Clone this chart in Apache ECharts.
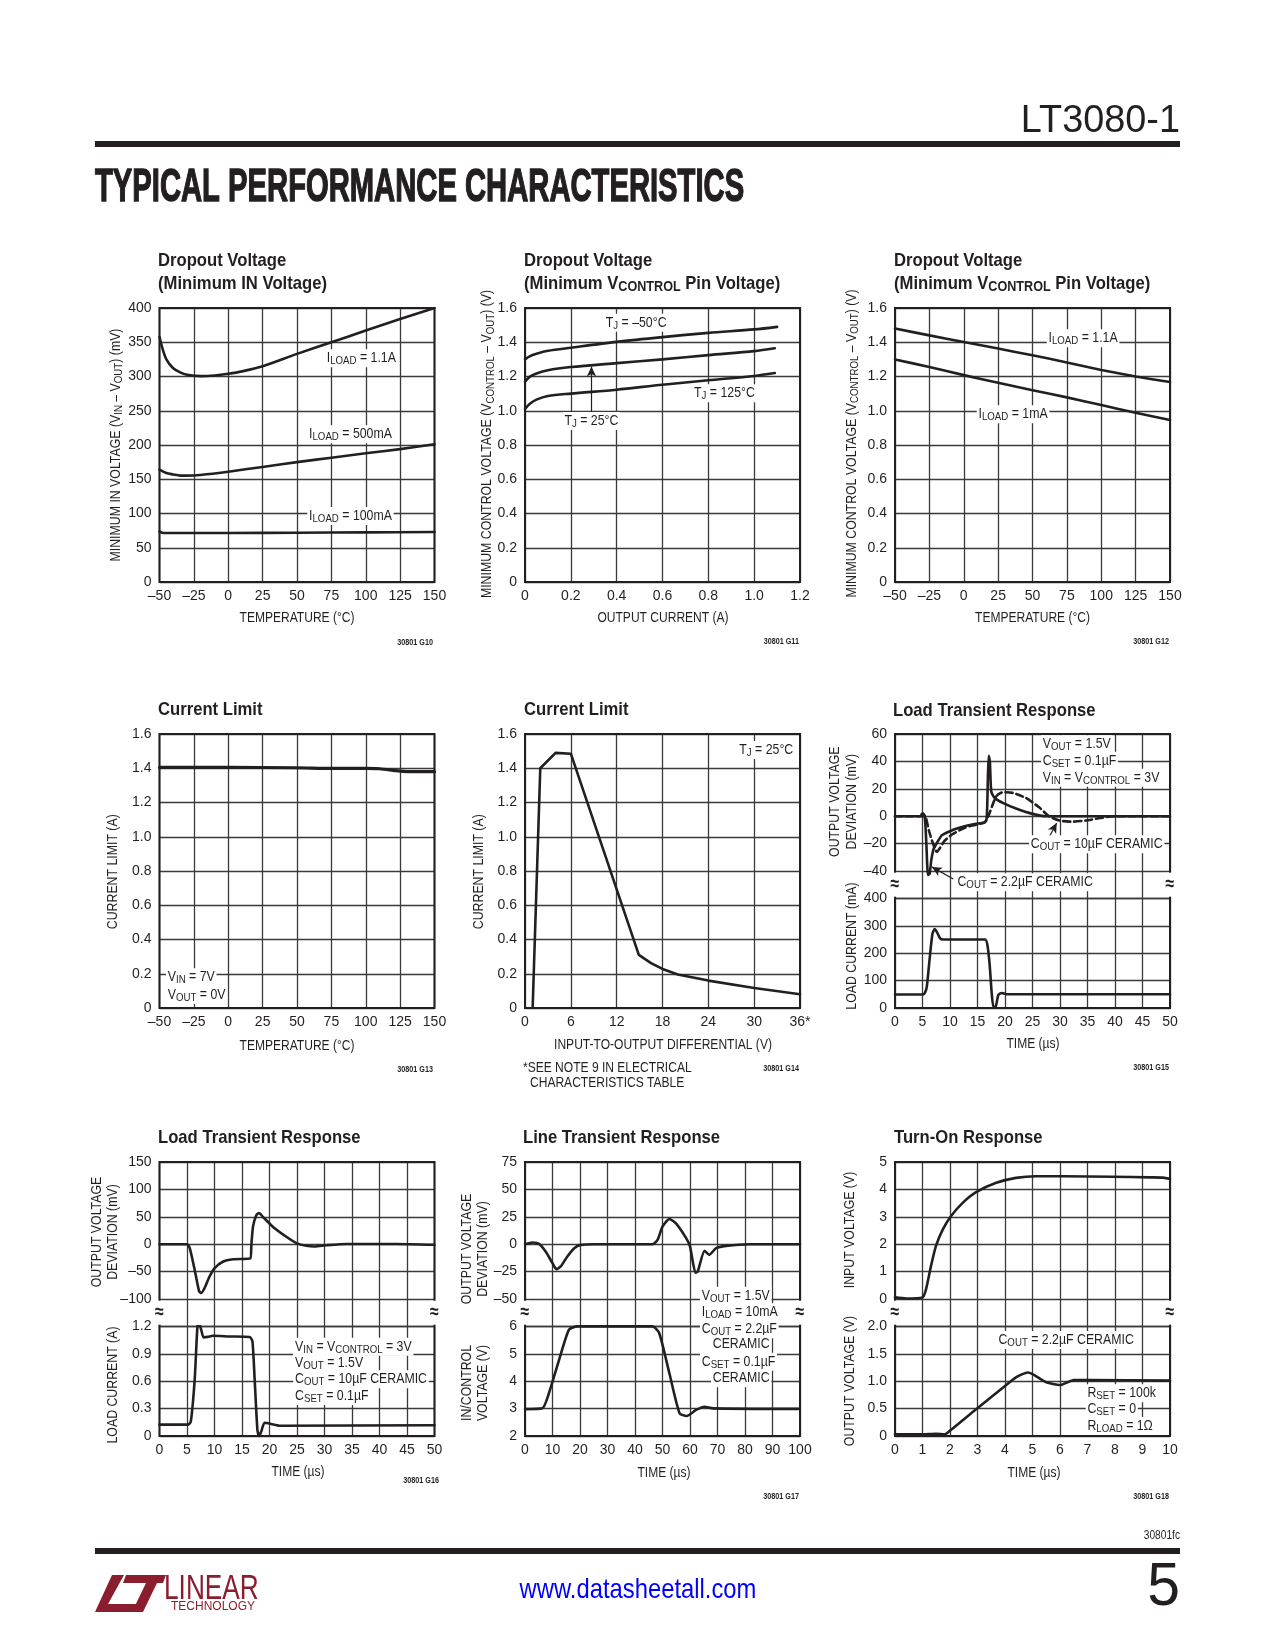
<!DOCTYPE html>
<html><head><meta charset="utf-8">
<script src="https://cdn.jsdelivr.net/npm/echarts@6/dist/echarts.min.js"></script>
<style>html,body{margin:0;padding:0;background:#fff}#c{width:1275px;height:1650px}</style>
</head><body><div id="c"></div>
<script>
// ---------------- DATA ----------------
// Chart 1: Dropout voltage (min IN voltage) vs temperature, mV
const c1_load1100mA = [[-50,358],[-48,342],[-45,325],[-40,312],[-35,306],[-30,302.5],[-20,300.5],[-10,301.5],[0,304],[10,307.5],[25,315],[50,333],[75,350],[100,367],[125,384],[150,400]];
const c1_load500mA = [[-50,164],[-45,159],[-40,157],[-35,155.3],[-25,155.5],[-10,158.5],[0,161],[25,168],[50,175],[75,181.5],[100,188],[125,194],[150,201]];
const c1_load100mA = [[-50,74],[-47,71.5],[0,71.5],[50,72],[100,72.5],[150,73]];
// Chart 2: min control voltage vs output current, V
const c2_tjMinus50 = [[0,1.30],[0.02,1.318],[0.05,1.333],[0.1,1.35],[0.2,1.368],[0.4,1.402],[0.6,1.43],[0.8,1.455],[1.0,1.475],[1.1,1.49]];
const c2_tj25 = [[0,1.17],[0.02,1.198],[0.05,1.218],[0.1,1.237],[0.2,1.255],[0.4,1.278],[0.6,1.30],[0.8,1.325],[1.0,1.348],[1.09,1.365]];
const c2_tj125 = [[0,1.01],[0.02,1.04],[0.05,1.065],[0.1,1.086],[0.2,1.1],[0.4,1.123],[0.6,1.152],[0.8,1.178],[1.0,1.203],[1.09,1.22]];
const c2_arrow25 = [[0.29,0.985],[0.29,1.258]];
// Chart 3: min control voltage vs temperature, V
const c3_temps = [-50,-25,0,25,50,75,100,125,150];
const c3_load1100mA = [1.48,1.44,1.402,1.363,1.324,1.282,1.238,1.2,1.168];
const c3_load1mA = [1.299,1.256,1.208,1.163,1.12,1.078,1.033,0.988,0.946];
// Chart 4: current limit vs temperature, A
const c4_limit = [[-50,1.405],[0,1.405],[50,1.403],[75,1.399],[100,1.399],[110,1.397],[120,1.388],[125,1.383],[135,1.38],[150,1.38]];
// Chart 5: current limit vs input-output differential, A
const c5_limit = [[1.0,0],[2.0,1.40],[4.0,1.49],[6.0,1.485],[14.9,0.31],[16.5,0.262],[18,0.228],[20,0.196],[24,0.16],[30,0.117],[36,0.08]];
// Chart 6: load transient (mV / mA vs us)
const c6_dev_2u2 = [[0,0],[4.6,0],[5.0,2.2],[5.4,0.5],[5.7,-20],[6.0,-43],[6.3,-42],[6.6,-32],[7.0,-24],[7.4,-21],[8.5,-14],[10,-11],[11.7,-8.5],[13,-7],[14.7,-5.6],[16.4,-4.2],[16.7,0],[16.9,30],[17.05,44],[17.25,40],[17.5,18],[18.1,13.5],[19.6,9.7],[22,5.6],[25,1.7],[27.5,0],[50,0]];
const c6_dev_10u = [[0,0],[5.2,0],[5.6,-1],[6.2,-11],[7.0,-21],[7.6,-26],[8.2,-23],[9,-18],[10.5,-13],[12.4,-9],[13.5,-7.3],[16.2,-4.8],[16.6,-3],[17.2,2.4],[18.4,14.5],[19.6,17.5],[21.4,17],[23.8,13.3],[26.2,6.5],[28,0],[29.9,-3.2],[32.3,-4],[34.7,-3.2],[37,-1.5],[40,0],[50,0]];
const c6_load = [[0,49],[5.1,49],[5.5,58],[5.8,80],[6.3,180],[6.8,270],[7.2,288],[7.6,278],[8.2,254],[8.8,250],[16.4,250],[16.8,230],[17.2,160],[17.6,50],[17.9,4],[18.3,5],[18.8,48],[19.4,55],[20.3,50],[50,50]];
const c6_arrow2u2 = [[10.6,-45.9],[6.7,-37]];
const c6_arrow10u = [[27.9,-16.3],[29.4,-4.9]];
// Chart 7: load transient 10uF (mV / A vs us)
const c7_dev = [[0,0],[4.98,0],[5.5,-7],[6.4,-47],[7.2,-86],[7.6,-89],[8.2,-80],[9.1,-59],[10,-44],[11.5,-32],[13.4,-27.5],[16.5,-26],[16.7,-2],[17,32],[17.6,53],[18.1,57],[18.8,50],[20.6,32],[23,14],[24.9,2],[26.7,-3],[28.2,-4.2],[30.3,-2],[34,0.5],[43,0.5],[50,-1]];
const c7_load = [[0,0.124],[5.2,0.124],[5.7,0.16],[6.4,0.62],[6.9,1.2],[7.2,1.23],[7.6,1.16],[8.0,1.08],[8.8,1.085],[9.7,1.098],[12.7,1.09],[16.4,1.083],[16.9,1.035],[17.3,0.62],[17.8,0.066],[18.1,-0.005],[18.5,0.05],[19.1,0.145],[20.3,0.132],[21.8,0.113],[50,0.118]];
// Chart 8: line transient (mV / V vs us)
const c8_dev = [[0,0],[2.7,1.5],[5.1,0.3],[7.5,-6.7],[10,-17.3],[11.4,-22.7],[13,-20.3],[15.4,-11.2],[17.9,-3.6],[20.3,-0.6],[25,0],[46.4,0],[48.2,3.9],[50,16],[52.5,23],[54.9,19],[58.6,5.5],[60,-2],[62,-26],[62.8,-25],[65.3,-6],[67,-9.7],[69.5,-3.6],[73.1,-1.5],[81.7,0],[100,0]];
const c8_vin = [[0,2.98],[6.3,3.01],[8.7,3.56],[12.4,4.78],[16,5.88],[19,6],[46.4,6],[48.8,5.76],[52.5,4.29],[56.2,2.83],[58.8,2.73],[62.2,2.95],[65.3,3.07],[68.3,3.01],[99.3,2.99]];
// Chart 9: turn-on response (V vs us)
const c9_vin = [[0,0.06],[0.4,0.02],[1.0,0.06],[1.13,0.36],[1.31,1.21],[1.49,1.94],[1.74,2.54],[2.04,3.03],[2.46,3.51],[2.95,3.9],[3.68,4.24],[4.4,4.42],[5.13,4.48],[6.1,4.48],[7.92,4.46],[9.26,4.44],[9.75,4.43],[10,4.38]];
const c9_vout = [[0,0.03],[1,0.03],[1.49,0.04],[1.8,0.03],[1.98,0.09],[2.95,0.49],[3.92,0.88],[4.4,1.07],[4.83,1.16],[5.0,1.13],[5.5,0.98],[6.0,0.93],[6.5,1.02],[7.1,1.02],[10,1.01]];

// ---------------- STYLE / LAYOUT ----------------
const INK = '#231f20', GRIDC = '#3a3a3a', RED = '#8b1e2e';
const FONT = '"Liberation Sans", Arial, Helvetica, sans-serif';
const COL = [159.5, 525, 895], ROW = [308, 734, 1162], GW = 275, GH = 274, RH = GH / 10;

const grids = [], xAxes = [], yAxes = [], series = [], gfx = [];
function fmtInt(v){ return v < 0 ? '\u2013' + Math.abs(v) : String(v); }
function fmt1(v){ return Math.abs(v) < 1e-9 ? '0' : v.toFixed(1); }
function axis(min, max, interval, o){ o = o || {}; return {type:'value', min, max, interval,
  axisLine:{show:false}, axisTick:{show:false},
  splitLine:{show:true, lineStyle:{color:GRIDC, width:1.3}},
  axisLabel:{show:o.show !== false, fontFamily:FONT, fontSize:14, color:INK, margin:o.margin || 7,
    formatter:o.fmt || fmtInt, showMinLabel:o.showMin !== false, showMaxLabel:true}}; }
function addGrid(l, t, w, h, xa, ya){ const i = grids.length; grids.push({left:l, top:t, width:w, height:h, containLabel:false});
  xa.gridIndex = i; ya.gridIndex = i; ya.axisLabel.margin = 8; xAxes.push(xa); yAxes.push(ya); return i; }
function arrowML(list){ return {silent:true, animation:false, symbol:['none','arrow'], symbolSize:[7,10],
  lineStyle:{color:INK, width:1.2, type:'solid'}, label:{show:false}, emphasis:{disabled:true},
  data:list.map(a => [{coord:a[0]}, {coord:a[1]}])}; }
function addLine(g, data, o){ o = o || {}; series.push({type:'line', xAxisIndex:g, yAxisIndex:g, data,
  symbol:'none', showSymbol:false, smooth:o.smooth === undefined ? 0.3 : o.smooth,
  lineStyle:{color:INK, width:o.w || 2.6, type:o.dash ? [7,4] : 'solid', cap:'round', join:'round'},
  z:10, silent:true, animation:false, clip:true, markLine:o.arrows ? arrowML(o.arrows) : undefined}); }
function T(x, y, s, o){ o = o || {}; const size = o.size || 14, sub = o.sub || Math.round(size * 0.78), fw = o.bold ? 'bold' : 'normal';
  const col = o.color || INK;
  const txt = s.split(/(_\{[^}]*\})/).filter(p => p.length).map(p => p.startsWith('_{') ? '{s|' + p.slice(2,-1) + '}' : '{n|' + p + '}').join('');
  const n = {fontSize:size, fontFamily:FONT, fontWeight:fw, lineHeight:size + 4, fill:col};
  const sb = {fontSize:sub, fontFamily:FONT, fontWeight:fw, padding:[Math.round(size * 0.42),0,0,0], fill:col};
  if (o.stroke){ n.stroke = col; n.lineWidth = o.stroke; sb.stroke = col; sb.lineWidth = o.stroke; }
  const el = {type:'text', x, y, z:o.z || 100, rotation:o.rot ? Math.PI / 2 : 0, scaleX:o.sx || 0.88, silent:true,
    style:{text:txt, fill:col, align:o.align || 'left', textAlign:o.align || 'left', verticalAlign:'middle', textVerticalAlign:'middle',
      rich:{n, s:sb}}};
  if (o.bg){ el.style.backgroundColor = '#fff'; el.style.padding = o.pad || [0,2]; }
  gfx.push(el); return el; }
function frame(l, t){ gfx.push({type:'rect', z:50, silent:true, shape:{x:l, y:t, width:GW, height:GH}, style:{fill:'none', stroke:INK, lineWidth:2}}); }
function brk(l, t){ const y = t + 5.5 * RH; const o = {align:'center', sx:0.8, size:20, bold:true, bg:true, pad:[0,0]};
  T(l, y, '\u2248', o); T(l + GW, y, '\u2248', o); }

// ---------------- CHARTS ----------------
// 1
const g1 = addGrid(COL[0], ROW[0], GW, GH, axis(-50,150,25), axis(0,400,50));
addLine(g1, c1_load1100mA); addLine(g1, c1_load500mA); addLine(g1, c1_load100mA);
// 2
const g2 = addGrid(COL[1], ROW[0], GW, GH, axis(0,1.2,0.2,{fmt:fmt1}), axis(0,1.6,0.2,{fmt:fmt1}));
addLine(g2, c2_tjMinus50); addLine(g2, c2_tj25, {arrows:[c2_arrow25]}); addLine(g2, c2_tj125);
// 3
const g3 = addGrid(COL[2], ROW[0], GW, GH, axis(-50,150,25), axis(0,1.6,0.2,{fmt:fmt1}));
addLine(g3, c3_temps.map((t,i) => [t, c3_load1100mA[i]]), {smooth:0.2});
addLine(g3, c3_temps.map((t,i) => [t, c3_load1mA[i]]), {smooth:0.2});
// 4
const g4 = addGrid(COL[0], ROW[1], GW, GH, axis(-50,150,25), axis(0,1.6,0.2,{fmt:fmt1}));
addLine(g4, c4_limit, {w:3.2});
// 5
const g5 = addGrid(COL[1], ROW[1], GW, GH, axis(0,36,6,{fmt:v => v === 36 ? '36*' : String(v)}), axis(0,1.6,0.2,{fmt:fmt1}));
addLine(g5, c5_limit, {smooth:0});
// 6
const g6u = addGrid(COL[2], ROW[1], GW, 6 * RH, axis(0,50,5,{show:false}), axis(-60,60,20,{showMin:false}));
const g6l = addGrid(COL[2], ROW[1] + 6 * RH, GW, 4 * RH, axis(0,50,5), axis(0,400,100));
addLine(g6u, c6_dev_10u, {dash:true, smooth:0.2});
addLine(g6u, c6_dev_2u2, {smooth:0.2, arrows:[c6_arrow2u2, c6_arrow10u]});
addLine(g6l, c6_load, {smooth:0.2});
// 7
const g7u = addGrid(COL[0], ROW[2], GW, 6 * RH, axis(0,50,5,{show:false}), axis(-150,150,50,{showMin:false}));
const g7l = addGrid(COL[0], ROW[2] + 6 * RH, GW, 4 * RH, axis(0,50,5), axis(0,1.2,0.3,{fmt:fmt1}));
addLine(g7u, c7_dev, {smooth:0.2}); addLine(g7l, c7_load, {smooth:0.2});
// 8
const g8u = addGrid(COL[1], ROW[2], GW, 6 * RH, axis(0,100,10,{show:false}), axis(-75,75,25,{showMin:false}));
const g8l = addGrid(COL[1], ROW[2] + 6 * RH, GW, 4 * RH, axis(0,100,10), axis(2,6,1));
addLine(g8u, c8_dev, {smooth:0.2}); addLine(g8l, c8_vin, {smooth:0.2});
// 9
const g9u = addGrid(COL[2], ROW[2], GW, 6 * RH, axis(0,10,1,{show:false}), axis(-1,5,1,{showMin:false}));
const g9l = addGrid(COL[2], ROW[2] + 6 * RH, GW, 4 * RH, axis(0,10,1), axis(0,2,0.5,{fmt:fmt1}));
addLine(g9u, c9_vin, {smooth:0.2}); addLine(g9l, c9_vout, {smooth:0.2});

for (const r of ROW) for (const c of COL) frame(c, r);
brk(COL[2], ROW[1]); brk(COL[0], ROW[2]); brk(COL[1], ROW[2]); brk(COL[2], ROW[2]);

// ---------------- TEXT ----------------
const TT = {size:18.5, bold:true, sx:0.9};
T(158, 261, 'Dropout Voltage', TT); T(158, 283.5, '(Minimum IN Voltage)', TT);
T(524, 261, 'Dropout Voltage', TT); T(524, 283.5, '(Minimum V_{CONTROL} Pin Voltage)', TT);
T(894, 261, 'Dropout Voltage', TT); T(894, 283.5, '(Minimum V_{CONTROL} Pin Voltage)', TT);
T(158, 710, 'Current Limit', TT); T(524, 710, 'Current Limit', TT); T(893, 711, 'Load Transient Response', TT);
T(158, 1138, 'Load Transient Response', TT); T(523, 1138, 'Line Transient Response', TT); T(894, 1138, 'Turn-On Response', TT);

const XN = {align:'center', sx:0.86};
T(297, 618.3, 'TEMPERATURE (°C)', XN); T(663, 618, 'OUTPUT CURRENT (A)', XN); T(1032.5, 618.3, 'TEMPERATURE (°C)', XN);
T(297, 1046, 'TEMPERATURE (°C)', XN); T(663, 1045, 'INPUT-TO-OUTPUT DIFFERENTIAL (V)', XN); T(1033, 1044, 'TIME (µs)', XN);
T(298, 1472.5, 'TIME (µs)', XN); T(664, 1473, 'TIME (µs)', XN); T(1034, 1473, 'TIME (µs)', XN);

const YN = {align:'center', sx:0.88, rot:true};
T(116, 445, 'MINIMUM IN VOLTAGE (V_{IN} \u2013 V_{OUT}) (mV)', YN);
T(487.5, 444, 'MINIMUM CONTROL VOLTAGE (V_{CONTROL} \u2013 V_{OUT}) (V)', YN);
T(852, 443.5, 'MINIMUM CONTROL VOLTAGE (V_{CONTROL} \u2013 V_{OUT}) (V)', YN);
T(113.3, 871.7, 'CURRENT LIMIT (A)', YN); T(479, 871.7, 'CURRENT LIMIT (A)', YN);
T(835, 801.7, 'OUTPUT VOLTAGE', YN); T(852.5, 801.7, 'DEVIATION (mV)', YN); T(852, 946, 'LOAD CURRENT (mA)', YN);
T(96.7, 1232, 'OUTPUT VOLTAGE', YN); T(113.3, 1232, 'DEVIATION (mV)', YN); T(113.3, 1385, 'LOAD CURRENT (A)', YN);
T(466.7, 1249, 'OUTPUT VOLTAGE', YN); T(483.3, 1249, 'DEVIATION (mV)', YN); T(466.7, 1383, 'IN/CONTROL', YN); T(483.3, 1383, 'VOLTAGE (V)', YN);
T(850, 1230, 'INPUT VOLTAGE (V)', YN); T(850, 1381, 'OUTPUT VOLTAGE (V)', YN);

const AN = {sx:0.88, bg:true};
T(325, 358.3, 'I_{LOAD} = 1.1A', AN); T(307.3, 434.3, 'I_{LOAD} = 500mA', AN); T(307.3, 516, 'I_{LOAD} = 100mA', AN);
T(604, 322.7, 'T_{J} = \u201350°C', AN); T(692.3, 393.3, 'T_{J} = 125°C', AN); T(562.7, 421, 'T_{J} = 25°C', AN);
T(1046.7, 338.3, 'I_{LOAD} = 1.1A', AN); T(976.7, 414.3, 'I_{LOAD} = 1mA', AN);
T(166, 977.3, 'V_{IN} = 7V', AN); T(166, 995, 'V_{OUT} = 0V', AN);
T(795, 750, 'T_{J} = 25°C', {sx:0.88, bg:true, align:'right'});
T(1041, 744.3, 'V_{OUT} = 1.5V', AN); T(1041, 760.7, 'C_{SET} = 0.1µF', AN); T(1041, 777.7, 'V_{IN} = V_{CONTROL} = 3V', AN);
T(1029, 844.3, 'C_{OUT} = 10µF CERAMIC', AN); T(955.7, 882.3, 'C_{OUT} = 2.2µF CERAMIC', AN);
T(293.3, 1346.7, 'V_{IN} = V_{CONTROL} = 3V', AN); T(293.3, 1362.7, 'V_{OUT} = 1.5V', AN); T(293.3, 1379.3, 'C_{OUT} = 10µF CERAMIC', AN); T(293.3, 1396, 'C_{SET} = 0.1µF', AN);
T(700, 1295.7, 'V_{OUT} = 1.5V', AN); T(700, 1312.3, 'I_{LOAD} = 10mA', AN); T(700, 1329.3, 'C_{OUT} = 2.2µF', AN); T(711, 1344, 'CERAMIC', AN);
T(700, 1361.7, 'C_{SET} = 0.1µF', AN); T(711, 1378.3, 'CERAMIC', AN);
T(996.7, 1340, 'C_{OUT} = 2.2µF CERAMIC', AN); T(1085.7, 1393.3, 'R_{SET} = 100k', AN); T(1085.7, 1409.3, 'C_{SET} = 0', AN); T(1085.7, 1426, 'R_{LOAD} = 1Ω', AN);

T(523, 1067.7, '*SEE NOTE 9 IN ELECTRICAL', {sx:0.86}); T(530, 1082.7, 'CHARACTERISTICS TABLE', {sx:0.86});

const FC = {size:8.5, bold:true, sx:0.85, align:'right'};
T(433, 642.7, '30801 G10', FC); T(799, 641.7, '30801 G11', FC); T(1169, 642, '30801 G12', FC);
T(433, 1070, '30801 G13', FC); T(799, 1069, '30801 G14', FC); T(1169, 1068, '30801 G15', FC);
T(439, 1480.7, '30801 G16', FC); T(799, 1496.7, '30801 G17', FC); T(1169, 1496.7, '30801 G18', FC);

// header / footer
T(1180, 121, 'LT3080-1', {size:39, sx:0.97, align:'right'});
gfx.push({type:'rect', z:50, silent:true, shape:{x:95, y:141, width:1085, height:6}, style:{fill:INK}});
T(95, 188, 'TYPICAL PERFORMANCE CHARACTERISTICS', {size:46, bold:true, sx:0.635, stroke:1.4});
T(1180, 1536, '30801fc', {size:12, sx:0.85, align:'right'});
gfx.push({type:'rect', z:50, silent:true, shape:{x:95, y:1548, width:1085, height:6}, style:{fill:INK}});
gfx.push({type:'polygon', z:60, silent:true, shape:{points:[[112,1575],[124,1575],[108,1604],[140,1604],[136,1612],[95,1612]]}, style:{fill:RED}});
gfx.push({type:'polygon', z:60, silent:true, shape:{points:[[126,1575],[166,1575],[163,1583],[123,1583]]}, style:{fill:RED}});
gfx.push({type:'polygon', z:60, silent:true, shape:{points:[[146,1583],[157,1583],[143,1612],[132,1612]]}, style:{fill:RED}});
T(164, 1589, 'LINEAR', {size:35, sx:0.75, color:RED});
T(171, 1607, 'TECHNOLOGY', {size:12, sx:1.0, color:RED});
T(638, 1590, 'www.datasheetall.com', {size:28, sx:0.85, align:'center', color:'#0000ff'});
T(1180, 1588, '5', {size:62, sx:0.95, align:'right'});

const chart = echarts.init(document.getElementById('c'), null, {renderer:'canvas', width:1275, height:1650});
chart.setOption({animation:false, backgroundColor:'#fff', grid:grids, xAxis:xAxes, yAxis:yAxes, series, graphic:{elements:gfx}});
</script></body></html>
